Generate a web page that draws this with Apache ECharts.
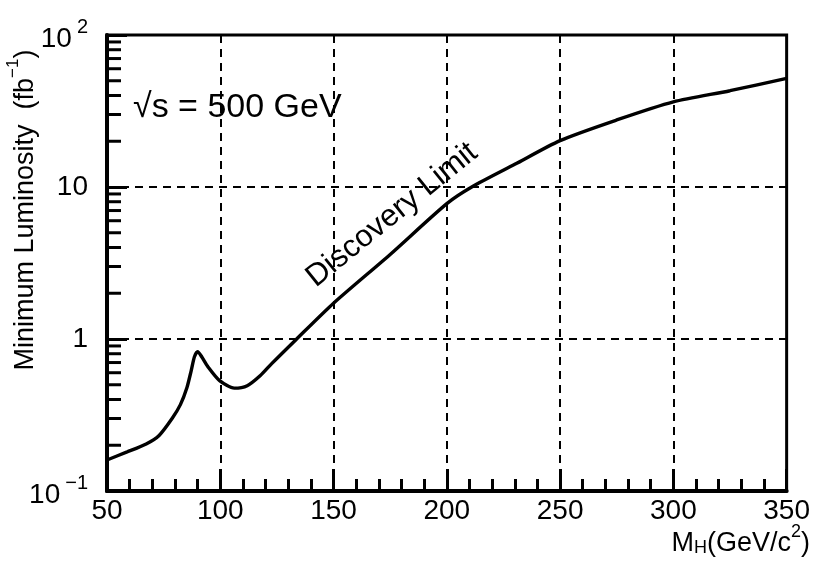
<!DOCTYPE html>
<html><head><meta charset="utf-8">
<script src="https://cdn.jsdelivr.net/npm/echarts@6/dist/echarts.min.js"></script>
<style>html,body{margin:0;padding:0;background:#fff}#c{width:813px;height:565px}</style>
</head><body><div id="c"></div>
<script>
var massGeV = [50,58.6,67.3,73,78.8,82.4,85.3,87.2,88.6,90.0,91.8,94.6,99.7,106.2,111.9,117.7,122.7,133.4,150,175,200,211,230,250,275,300,325,350];
var minLumi = [0.160,0.180,0.204,0.232,0.301,0.370,0.480,0.622,0.764,0.826,0.764,0.655,0.532,0.475,0.493,0.575,0.689,0.99,1.72,3.6,7.77,10,14.1,20.2,27.6,36.3,43,51.8];
var xTicks = [50,100,150,200,250,300,350];
var yTicks = [0.1,1,10,100];
var yTickLabels = ['{b|10}{s|\u22121}','1','10','{b|10}{s|2}'];
var yMinorTicks = [0.2,0.3,0.4,0.5,0.6,0.7,0.8,0.9,2,3,4,5,6,7,8,9,20,30,40,50,60,70,80,90];

var FAM = '"Liberation Sans", Arial, Helvetica, sans-serif';
var chart = echarts.init(document.getElementById('c'), null, {renderer:'canvas'});
var line = {color:'#000', width:2, type:[8,6]};
chart.setOption({
  animation:false,
  backgroundColor:'#fff',
  grid:{left:107, right:26, top:35, bottom:74, show:true, borderColor:'#000', borderWidth:3, backgroundColor:'transparent'},
  xAxis:{
    type:'value', min:50, max:350, interval:50,
    axisLine:{lineStyle:{color:'#000', width:4}},
    axisTick:{inside:true, length:22, lineStyle:{color:'#000', width:3}},
    minorTick:{show:true, splitNumber:5, length:12, lineStyle:{color:'#000', width:3}},
    splitLine:{show:true, lineStyle:line},
    axisLabel:{color:'#000', fontFamily:FAM, fontSize:28, margin:6,
      formatter:function(v){return xTicks.indexOf(v)>=0?String(v):'';}}
  },
  yAxis:{
    type:'log', logBase:10, min:0.1, max:100,
    axisLine:{lineStyle:{color:'#000', width:4}},
    axisTick:{inside:true, length:20, lineStyle:{color:'#000', width:3}},
    splitLine:{show:true, lineStyle:line},
    axisLabel:{color:'#000', fontFamily:FAM, fontSize:28, margin:19,
      formatter:function(v){
        for (var i=0;i<yTicks.length;i++){ if (Math.abs(v-yTicks[i])<yTicks[i]*1e-6) return yTickLabels[i]; }
        return '';
      },
      rich:{
        b:{fontFamily:FAM, fontSize:28, color:'#000', lineHeight:36, verticalAlign:'bottom'},
        s:{fontFamily:FAM, fontSize:20, color:'#000', lineHeight:36, verticalAlign:'top', padding:[0,0,14,5]}
      }
    }
  },
  graphic:[
    {type:'text', left:133, top:91, style:{text:'\u221As = 500 GeV', fontFamily:FAM, fontSize:34, fill:'#000'}},
    {type:'text', x:392, y:215, rotation:39*Math.PI/180, style:{text:'Discovery Limit', fontFamily:FAM, fontSize:31, fill:'#000', align:'center', verticalAlign:'middle'}},
    {type:'text', x:22, y:210, rotation:Math.PI/2, style:{
      text:'{n|Minimum Luminosity  (fb}{s|\u22121}{n|)}', align:'center', verticalAlign:'middle',
      rich:{n:{fontFamily:FAM, fontSize:27, fill:'#000', lineHeight:34, verticalAlign:'bottom'},
            s:{fontFamily:FAM, fontSize:17, fill:'#000', lineHeight:34, verticalAlign:'top'}}}},
    {type:'text', right:3, top:523, style:{
      text:'{n|M}{u|H}{n|(GeV/c}{s|2}{n|)}',
      rich:{n:{fontFamily:FAM, fontSize:27, fill:'#000', lineHeight:34, verticalAlign:'bottom'},
            u:{fontFamily:FAM, fontSize:18, fill:'#000', lineHeight:34, verticalAlign:'bottom'},
            s:{fontFamily:FAM, fontSize:18, fill:'#000', lineHeight:34, verticalAlign:'top'}}}}
  ],
  series:[
    {type:'line', data:massGeV.map(function(x,i){return [x,minLumi[i]];}), smooth:0.25, symbol:'none',
     lineStyle:{color:'#000', width:3.4}, z:5},
    {type:'custom', data:yMinorTicks.map(function(v){return [50,v];}), z:6, clip:false,
     renderItem:function(params, api){
       var p = api.coord([api.value(0), api.value(1)]);
       return {type:'line', shape:{x1:p[0], y1:p[1], x2:p[0]+14, y2:p[1]}, style:{stroke:'#000', lineWidth:3}};
     }}
  ]
});
</script></body></html>
